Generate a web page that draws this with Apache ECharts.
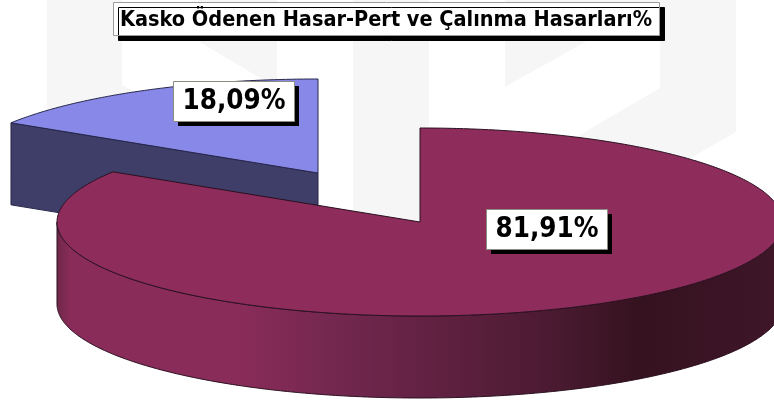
<!DOCTYPE html>
<html>
<head>
<meta charset="utf-8">
<style>
  html, body { margin: 0; padding: 0; background: #fff; }
  #main { width: 774px; height: 405px; }
</style>
<script src="https://cdn.jsdelivr.net/npm/echarts@6/dist/echarts.min.js"></script>
</head>
<body>
<div id="main"></div>
<script>
var chartTitle = 'Kasko Ödenen Hasar-Pert ve Çalınma Hasarları%';
var sliceNames = ['Hasar-Pert', 'Çalınma'];
var sliceValues = [81.91, 18.09];

var labelFont = '"DejaVu Sans Condensed", "DejaVu Sans", sans-serif';

// pie look, the blue slice is pulled out to the upper left
var pieStyles = [
  { cx: 420, cy: 222, top: '#8e2c5c', edge: '#2a1020', z: 10, box: [486, 209] },
  { cx: 318, cy: 173, top: '#8888e8', edge: '#26264a', z: 1, box: [173, 81] }
];
var radiusX = 363;
var radiusY = 94;
var depth = 82;
var foreshorten = 0.735; // the slices are not opened up evenly by the 3d view

var total = sliceValues.reduce(function (a, b) { return a + b; }, 0);

function warp(deg) {
  var r = deg * Math.PI / 180;
  var p = Math.atan2(foreshorten * Math.sin(r), Math.cos(r));
  return p < 0 ? p + Math.PI * 2 : p;
}

function rimPoint(s, phi, drop) {
  return [s.cx + radiusX * Math.sin(phi), s.cy - radiusY * Math.cos(phi) + (drop || 0)];
}

function arcPoints(s, from, to, drop) {
  var pts = [];
  var n = Math.max(2, Math.ceil(Math.abs(to - from) / 0.01));
  for (var i = 0; i <= n; i++) {
    pts.push(rimPoint(s, from + (to - from) * i / n, drop));
  }
  return pts;
}

var sideGradient = new echarts.graphic.LinearGradient(57, 0, 774, 0, [
  { offset: 0, color: '#702849' },
  { offset: 0.02, color: '#8a2c5a' },
  { offset: 0.25, color: '#8a2c5a' },
  { offset: 0.38, color: '#742850' },
  { offset: 0.55, color: '#5e203f' },
  { offset: 0.7, color: '#491a30' },
  { offset: 0.81, color: '#35121f' },
  { offset: 1, color: '#3e1628' }
], true);

function renderSlice(params, api) {
  var i = params.dataIndex;
  var s = pieStyles[i];
  var value = api.value(0);
  var before = 0;
  for (var k = 0; k < i; k++) before += sliceValues[k];
  var from = warp(before / total * 360);
  var to = warp((before + value) / total * 360);
  if (to <= from) to += Math.PI * 2;
  var children = [];

  // outer wall, only the part facing the viewer
  var wallFrom = Math.max(from, Math.PI / 2);
  var wallTo = Math.min(to, Math.PI * 1.5);
  if (wallTo > wallFrom) {
    var wall = arcPoints(s, wallFrom, wallTo, 0).concat(arcPoints(s, wallTo, wallFrom, depth));
    children.push({
      type: 'polygon', z2: s.z, shape: { points: wall },
      style: { fill: sideGradient, stroke: s.edge, lineWidth: 1 }
    });
  }

  // cut face of the pulled out slice
  if (i === 1) {
    var tip = rimPoint(s, from, 0);
    children.push({
      type: 'polygon', z2: s.z,
      shape: { points: [tip, [s.cx, s.cy], [s.cx, s.cy + depth], [tip[0], tip[1] + depth]] },
      style: { fill: '#3e3e68', stroke: s.edge, lineWidth: 1 }
    });
  }

  // top face
  children.push({
    type: 'polygon', z2: s.z + 1,
    shape: { points: [[s.cx, s.cy]].concat(arcPoints(s, from, to, 0)) },
    style: { fill: s.top, stroke: s.edge, lineWidth: 1 }
  });

  // value label with hard shadow
  var bx = s.box[0], by = s.box[1];
  children.push({
    type: 'rect', z2: 20, shape: { x: bx + 5, y: by + 5, width: 121, height: 40 },
    style: { fill: '#000' }
  });
  children.push({
    type: 'rect', z2: 21, shape: { x: bx + 0.5, y: by + 0.5, width: 121, height: 40 },
    style: { fill: '#fff', stroke: '#8c8c80', lineWidth: 1 }
  });
  children.push({
    type: 'text', z2: 22,
    style: {
      x: bx + 61, y: by + 21,
      text: value.toFixed(2).replace('.', ',') + '%',
      fill: '#000', font: 'bold 27.5px ' + labelFont,
      align: 'center', verticalAlign: 'middle'
    }
  });

  return { type: 'group', children: children };
}

// faint watermark behind the chart
var watermark = [
  [[47, 0], [122, 0], [122, 85], [175, 115], [47, 150]],
  [[198, 0], [277, 0], [277, 88], [198, 41]],
  [[353, 0], [429, 0], [429, 225], [353, 225]],
  [[505, 0], [660, 0], [505, 87]],
  [[660, 0], [736, 0], [736, 132], [600, 210], [520, 170], [660, 88]]
];

var chart = echarts.init(document.getElementById('main'), null, { renderer: 'canvas' });
chart.setOption({
  animation: false,
  backgroundColor: '#fff',
  title: {
    text: chartTitle,
    left: 113,
    top: 2,
    padding: [7, 8, 5, 7],
    backgroundColor: '#fff',
    borderColor: '#9a9a9a',
    borderWidth: 1,
    shadowColor: '#000',
    shadowBlur: 0,
    shadowOffsetX: 5,
    shadowOffsetY: 5,
    textStyle: {
      fontFamily: labelFont,
      fontWeight: 'bold',
      fontSize: 21.5,
      color: '#000'
    }
  },
  graphic: watermark.map(function (pts) {
    return {
      type: 'polygon', silent: true, z: 0,
      shape: { points: pts },
      style: { fill: '#f6f6f6' }
    };
  }),
  series: [{
    type: 'custom',
    coordinateSystem: 'none',
    z: 5,
    silent: true,
    renderItem: renderSlice,
    encode: { value: 0 },
    data: sliceValues.map(function (v, i) {
      return { name: sliceNames[i], value: [v] };
    })
  }]
});
</script>
</body>
</html>
